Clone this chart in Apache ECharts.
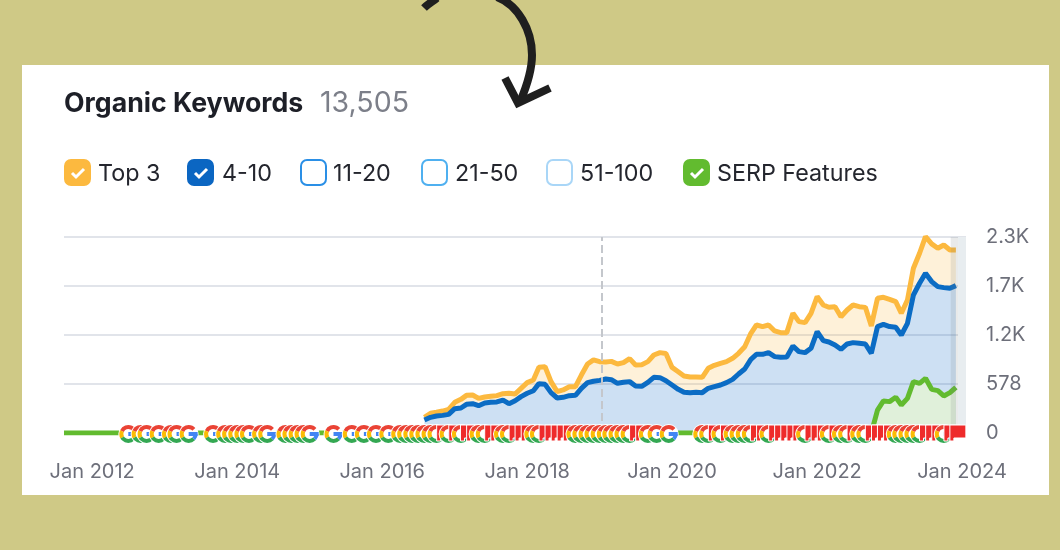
<!DOCTYPE html>
<html lang="en">
<head>
<meta charset="UTF-8">
<title>Organic Keywords</title>
<script src="https://cdn.jsdelivr.net/npm/echarts@6/dist/echarts.min.js"></script>
<style>
  html, body { margin: 0; padding: 0; background: #cfc986; }
  #chart { width: 1060px; height: 550px; }
</style>
</head>
<body>
<div id="chart"></div>
<script>
// monthly values, Aug 2016 to Dec 2023
var firstYear = 2016, firstMonth = 8
var values4to10 = [153,185,201,208,220, 287,295,338,346,322,354,362,366,389,346,381,429,
  468,499,582,574,476,413,421,440,444,527,594,610,
  621,637,629,586,598,606,555,551,598,657,653,617,
  566,515,480,476,480,476,527,547,566,594,633,696,
  755,869,928,928,948,901,893,897,1027,960,948,999,
  1196,1089,1074,1038,987,1050,1066,1058,1050,940,1255,1282,
  1255,1247,1156,1294,1628,1766,1884,1786,1727,1715,1707,1738]
var valuesTop3 = [31,47,43,51,59, 75,102,106,102,86,71,71,75,75,122,79,98,
  126,126,193,208,130,75,87,106,102,157,220,252,
  220,201,216,228,232,271,248,255,244,263,295,322,
  208,208,193,185,181,181,236,252,256,248,248,244,
  263,307,346,326,326,303,291,287,385,354,354,413,
  413,421,409,452,385,401,444,432,432,322,334,319,
  322,303,256,275,315,354,433,445,452,503,452,420]
// SERP features stays at 0 until Oct 2022
var serpMonths = ['2022-10','2022-11','2022-12','2023-01','2023-02','2023-03','2023-04','2023-05','2023-06','2023-07','2023-08','2023-09','2023-10','2023-11','2023-12']
var serpValues = [0,271,378,370,421,330,409,606,586,645,515,500,437,476,539]

var googleMonths = ['2012-07','2012-09','2012-10','2012-12','2013-02','2013-03','2013-05',
  '2013-09','2013-11','2013-12','2014-01','2014-02','2014-03','2014-05','2014-06',
  '2014-09','2014-10','2014-11','2014-12','2015-01','2015-05','2015-08','2015-10','2015-12',
  '2016-02','2016-04','2016-05','2016-06','2016-07','2016-08','2016-09','2016-10','2016-12',
  '2017-02','2017-05','2017-06','2017-09','2017-10','2018-02','2018-03',
  '2018-09','2018-10','2018-11','2018-12','2019-01','2019-02','2019-03','2019-04','2019-05','2019-06',
  '2019-09','2019-10-15','2019-12-15',
  '2020-06','2020-07','2020-09','2020-11','2020-12','2021-01','2021-02','2021-05','2021-11',
  '2022-03','2022-05','2022-06','2022-08','2022-09','2023-02','2023-03','2023-04','2023-05','2023-06','2023-10']
var flagMonths = ['2016-11','2017-01','2017-03','2017-04','2017-07','2017-08','2017-11','2017-12','2018-01',
  '2018-04','2018-05','2018-06','2018-07','2018-08','2019-07','2019-08','2020-08','2020-10',
  '2021-03','2021-04','2021-06','2021-07','2021-08','2021-09','2021-10','2021-12','2022-01','2022-02',
  '2022-04','2022-07','2022-10','2022-11','2022-12','2023-01','2023-07','2023-08','2023-09','2023-11','2023-12']

var xTickLabels = ['2012-01-01','2014-01-01','2016-01-01','2018-01-01','2020-01-01','2022-01-01','2024-01-01']
var yTicks = [0, 578, 1156, 1734, 2312]
var legendNames = ['Top 3', '4-10', '11-20', '21-50', '51-100', 'SERP Features']

// layout and colours of the legend, not data
var legendLook = [
  { box: 64, text: 98, fill: '#fcb93f', stroke: '#fcb93f', on: true },
  { box: 187, text: 222, fill: '#0b66c2', stroke: '#0b66c2', on: true },
  { box: 300, text: 333, fill: '#fff', stroke: '#2a8fe6', on: false },
  { box: 421, text: 455, fill: '#fff', stroke: '#4fb0f0', on: false },
  { box: 546, text: 580, fill: '#fff', stroke: '#a9d6f7', on: false },
  { box: 683, text: 717, fill: '#62bb2f', stroke: '#62bb2f', on: true }
]
var uiFont = 'Inter, "Noto Sans", sans-serif'
var arrowStyle = { fill: null, stroke: '#1f1f1f', lineWidth: 8 }

function ts(s) {
  return echarts.time.parse(s).getTime()
}
function monthDates(n) {
  var out = []
  for (var i = 0; i < n; i++) {
    var m = firstMonth - 1 + i
    var mm = m % 12 + 1
    out.push((firstYear + Math.floor(m / 12)) + '-' + (mm < 10 ? '0' + mm : mm))
  }
  return out
}
// count comes first: ECharts stacks the first numeric column
function pairs(dates, vals) {
  return vals.map(function (v, i) { return [v, ts(dates[i])] })
}

var dates = monthDates(values4to10.length)
var serpData = [[0, ts('2011-08-12')]].concat(pairs(serpMonths, serpValues))

var iconRows = googleMonths.map(function (d) { return [ts(d), 0, 0] })
  .concat(flagMonths.map(function (d) { return [ts(d), 0, 1] }))
iconRows.sort(function (a, b) { return a[0] - b[0] })

function arc(cx, cy, from, to, color) {
  return {
    type: 'arc',
    shape: { cx: cx, cy: cy, r: 7, startAngle: from * Math.PI / 180, endAngle: to * Math.PI / 180 },
    style: { stroke: color, lineWidth: 4, fill: null }
  }
}
function renderIcon(params, api) {
  var p = api.coord([api.value(0), 0])
  var x = p[0], y = p[1]
  if (api.value(2) === 1) {
    return {
      type: 'polygon',
      shape: { points: [[x - 6, y - 8], [x + 10, y - 8], [x + 10, y + 5], [x - 2, y + 5], [x - 2, y + 8], [x - 6, y + 8]] },
      style: { fill: '#ee2b2b', stroke: '#fff', lineWidth: 1 }
    }
  }
  var cy = y + 1
  return {
    type: 'group',
    children: [
      { type: 'circle', shape: { cx: x, cy: cy, r: 10 }, style: { fill: '#fff' } },
      arc(x, cy, 205, 318, '#ea4335'),
      arc(x, cy, 150, 205, '#fbbc05'),
      arc(x, cy, 45, 150, '#34a853'),
      arc(x, cy, 0, 45, '#4285f4'),
      { type: 'rect', shape: { x: x, y: cy - 2, width: 9, height: 4 }, style: { fill: '#4285f4' } }
    ]
  }
}

var graphics = [
  { type: 'rect', z: -10, shape: { x: 22, y: 65, width: 1027, height: 430 }, style: { fill: '#fff' } },
  { type: 'bezierCurve', z: 20, shape: { x1: 424, y1: 8, cpx1: 428, cpy1: 4, cpx2: 432, cpy2: 2, x2: 437, y2: -2 }, style: arrowStyle },
  { type: 'bezierCurve', z: 20, shape: { x1: 497, y1: -3, cpx1: 518, cpy1: 5, cpx2: 532, cpy2: 30, x2: 532, y2: 55 }, style: arrowStyle },
  { type: 'bezierCurve', z: 20, shape: { x1: 532, y1: 55, cpx1: 532, cpy1: 72, cpx2: 526, cpy2: 88, x2: 520, y2: 102 }, style: arrowStyle },
  { type: 'polyline', z: 20, shape: { points: [[505, 78], [518, 103], [550, 88]] }, style: arrowStyle }
]
legendNames.forEach(function (name, i) {
  var l = legendLook[i]
  graphics.push({
    type: 'rect', z: 10,
    shape: { x: l.box + 1, y: 160, width: 25, height: 25, r: 6 },
    style: { fill: l.fill, stroke: l.stroke, lineWidth: 2 }
  })
  if (l.on) {
    graphics.push({
      type: 'polyline', z: 11,
      shape: { points: [[l.box + 8, 173], [l.box + 12, 177], [l.box + 20, 169]] },
      style: { stroke: '#fff', lineWidth: 3, fill: null }
    })
  }
  graphics.push({
    type: 'text', z: 11, x: l.text, y: 174,
    style: { text: name, font: '400 23.3px ' + uiFont, fill: '#24262e', verticalAlign: 'middle' }
  })
})

var chart = echarts.init(document.getElementById('chart'))
chart.setOption({
  backgroundColor: '#cfc986',
  animation: false,
  title: [
    { text: 'Organic Keywords', left: 64, top: 90, textStyle: { fontFamily: uiFont, fontSize: 26.7, fontWeight: 700, color: '#1d1f27' }, padding: 0 },
    { text: '13,505', left: 320, top: 89, textStyle: { fontFamily: uiFont, fontSize: 28.5, fontWeight: 400, color: '#7c7f89' }, padding: 0 }
  ],
  graphic: { elements: graphics },
  grid: { left: 64, right: 94, top: 237, bottom: 117 },
  xAxis: {
    type: 'value',
    min: ts('2011-08-12'),
    max: ts('2024-01-21'),
    axisLine: { show: false },
    axisTick: { show: false },
    splitLine: { show: false },
    axisLabel: {
      customValues: xTickLabels.map(ts),
      hideOverlap: false,
      showMinLabel: true,
      showMaxLabel: true,
      margin: 29,
      fontFamily: uiFont,
      fontSize: 20,
      color: '#6d6f7a',
      formatter: function (v) {
        return 'Jan ' + new Date(v).getFullYear()
      }
    }
  },
  yAxis: {
    type: 'value',
    position: 'right',
    min: 0,
    max: yTicks[yTicks.length - 1],
    interval: yTicks[1],
    axisLine: { show: false },
    axisTick: { show: false },
    splitLine: { lineStyle: { color: '#e1e4ea', width: 2 } },
    axisLabel: {
      margin: 20,
      fontFamily: uiFont,
      fontSize: 20,
      color: '#6d6f7a',
      formatter: function (v) {
        return v >= 1000 ? (v / 1000).toFixed(1) + 'K' : String(v)
      }
    }
  },
  series: [
    {
      name: '4-10',
      type: 'line',
      stack: 'kw',
      encode: { x: 1, y: 0 },
      z: 3,
      showSymbol: false,
      data: pairs(dates, values4to10),
      lineStyle: { color: '#0b6cc4', width: 5 },
      areaStyle: { color: 'rgba(20,110,200,0.21)', opacity: 1 },
      markLine: {
        silent: true,
        symbol: 'none',
        label: { show: false },
        lineStyle: { color: '#c4c7cc', type: 'dashed', width: 2 },
        data: [{ xAxis: ts('2019-01-12') }]
      }
    },
    {
      name: 'Top 3',
      type: 'line',
      stack: 'kw',
      encode: { x: 1, y: 0 },
      z: 2,
      showSymbol: false,
      data: pairs(dates, valuesTop3),
      lineStyle: { color: '#fcb93f', width: 5 },
      areaStyle: { color: 'rgba(252,185,63,0.2)', opacity: 1 }
    },
    {
      name: 'SERP Features',
      type: 'line',
      encode: { x: 1, y: 0 },
      z: 4,
      showSymbol: false,
      data: serpData,
      lineStyle: { color: '#62bb2f', width: 5 },
      areaStyle: { color: 'rgb(224,240,216)', opacity: 0.95 },
      markArea: {
        silent: true,
        z: 6,
        data: [
          [{ xAxis: ts('2023-11-05'), itemStyle: { color: 'rgba(120,125,125,0.16)' } }, { xAxis: ts('2023-12-12') }],
          [{ xAxis: ts('2023-12-12'), itemStyle: { color: '#e8edf0' } }, { xAxis: ts('2024-01-21') }]
        ]
      }
    },
    {
      name: 'icons',
      type: 'custom',
      z: 7,
      clip: false,
      silent: true,
      encode: { x: 0, y: 1 },
      data: iconRows,
      renderItem: renderIcon
    }
  ]
})
</script>
</body>
</html>
